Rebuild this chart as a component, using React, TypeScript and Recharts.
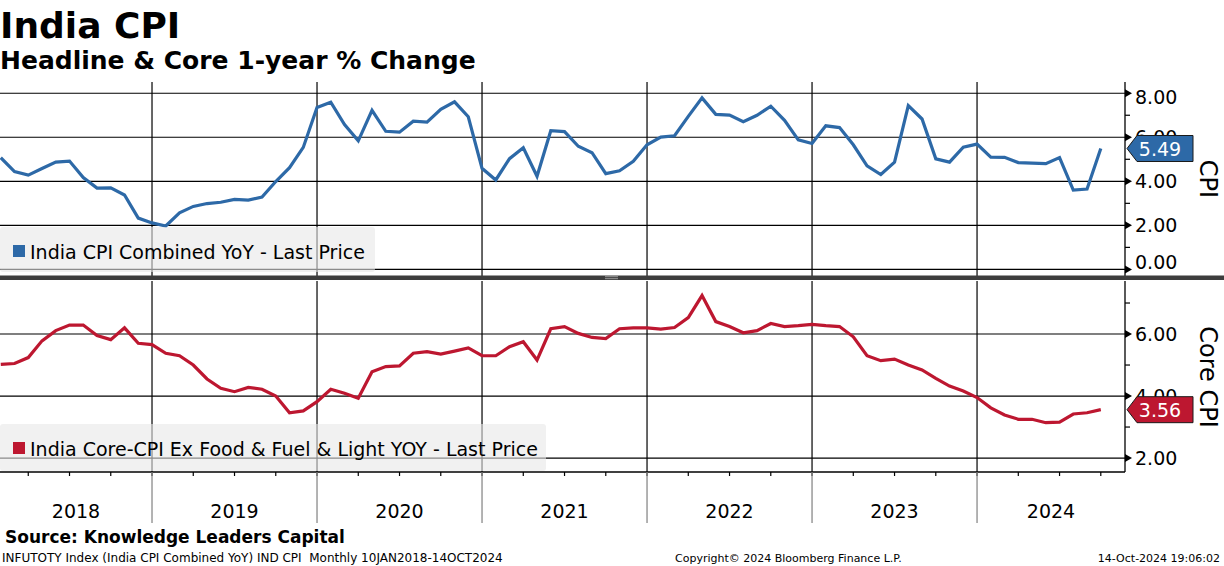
import React from 'react';
import {
  LineChart,
  Line,
  XAxis,
  YAxis,
  CartesianGrid,
  ReferenceDot,
} from 'recharts';

// monthly readings, Jan 2018 .. Sep 2024
const cpiYoY = [
  5.07, 4.44, 4.28, 4.58, 4.87, 4.92, 4.17, 3.69, 3.70, 3.38, 2.33, 2.11,
  1.97, 2.57, 2.86, 2.99, 3.05, 3.18, 3.15, 3.28, 3.99, 4.62, 5.54, 7.35,
  7.59, 6.58, 5.84, 7.22, 6.27, 6.23, 6.73, 6.69, 7.27, 7.61, 6.93, 4.59,
  4.06, 5.03, 5.52, 4.23, 6.30, 6.26, 5.59, 5.30, 4.35, 4.48, 4.91, 5.66,
  6.01, 6.07, 6.95, 7.79, 7.04, 7.01, 6.71, 7.00, 7.41, 6.77, 5.88, 5.72,
  6.52, 6.44, 5.66, 4.70, 4.31, 4.87, 7.44, 6.83, 5.02, 4.87, 5.55, 5.69,
  5.10, 5.09, 4.85, 4.83, 4.80, 5.08, 3.60, 3.65, 5.49,
];

const coreYoY = [
  5.02, 5.05, 5.24, 5.78, 6.11, 6.29, 6.29, 5.95, 5.82, 6.20, 5.70, 5.66,
  5.38, 5.30, 5.00, 4.55, 4.25, 4.14, 4.28, 4.22, 4.00, 3.46, 3.52, 3.82,
  4.22, 4.09, 3.93, 4.78, 4.95, 4.97, 5.38, 5.43, 5.35, 5.45, 5.55, 5.30,
  5.30, 5.59, 5.75, 5.16, 6.17, 6.24, 6.02, 5.89, 5.85, 6.17, 6.20, 6.20,
  6.16, 6.21, 6.53, 7.24, 6.40, 6.24, 6.04, 6.11, 6.34, 6.24, 6.27, 6.31,
  6.27, 6.24, 5.91, 5.30, 5.14, 5.19, 5.00, 4.84, 4.57, 4.32, 4.16, 3.95,
  3.62, 3.39, 3.25, 3.25, 3.14, 3.16, 3.42, 3.46, 3.56,
];

const years = ['2018', '2019', '2020', '2021', '2022', '2023', '2024'];
const monthNames = ['Jan', 'Feb', 'Mar', 'Apr', 'May', 'Jun', 'Jul', 'Aug', 'Sep', 'Oct', 'Nov', 'Dec'];
const cpiTicks = [0, 1, 2, 3, 4, 5, 6, 7, 8];
const cpiMajor = [0, 2, 4, 6, 8];
const coreTicks = [2, 3, 4, 5, 6, 7];
const coreMajor = [2, 4, 6];

const BLUE = '#2d69a7';
const RED = '#bd1730';
const FONT = '"DejaVu Sans", sans-serif';

// x runs in months, 0 = end of Jan 2018
const X_MIN = -0.055;
const X_MAX = 81.76;
const AXIS_X = 1125;
const CPI_DOMAIN: [number, number] = [-0.3, 8.51];
const CORE_DOMAIN: [number, number] = [1.55, 7.71];
const TOP_MARGIN = { top: 82, right: 0, bottom: 4, left: 0 };
const BOTTOM_MARGIN = { top: 281, right: 0, bottom: 43, left: 0 };

const data = cpiYoY.map((v, i) => ({
  i,
  month: `${monthNames[i % 12]} ${years[Math.floor(i / 12)]}`,
  cpi: v,
  core: coreYoY[i],
}));

const yearStarts = years.map((_, k) => 12 * k - 1).filter((v) => v > X_MIN);
const yearMids = years.map((label, k) => {
  const lo = Math.max(12 * k - 1, X_MIN);
  const hi = Math.min(12 * k + 11, X_MAX);
  return { pos: (lo + hi) / 2, label };
});
const quarterEnds: number[] = [];
for (let q = 2; q <= X_MAX; q += 3) quarterEnds.push(q);
const xTicks = Array.from(
  new Set([...quarterEnds, ...yearStarts, ...yearMids.map((m) => m.pos)])
).sort((a, b) => a - b);

const XTick = (props: any) => {
  const { x, y, payload } = props;
  const v = payload.value;
  const mid = yearMids.find((m) => m.pos === v);
  return (
    <g>
      {quarterEnds.includes(v) && (
        <line x1={x} x2={x} y1={y} y2={y + 4} stroke="#000" strokeWidth={1.2} />
      )}
      {yearStarts.includes(v) && (
        <line x1={x} x2={x} y1={y} y2={y + 51} stroke="#8a8a8a" strokeWidth={1.3} />
      )}
      {mid && (
        <text x={x} y={y + 46} textAnchor="middle" fontSize={19} fontFamily={FONT} fill="#000">
          {mid.label}
        </text>
      )}
    </g>
  );
};

const makeYTick = (majors: number[], top: number, bottom: number) => (props: any) => {
  const { x, y, payload } = props;
  const v = payload.value;
  if (!majors.includes(v)) {
    return <line x1={x} x2={x + 5} y1={y} y2={y} stroke="#000" strokeWidth={1.2} />;
  }
  const base = Math.min(Math.max(y + 7, top + 22), bottom - 7);
  return (
    <g>
      <polygon points={`${x},${y - 4} ${x + 7},${y} ${x},${y + 4}`} fill="#000" />
      <text x={x + 10} y={base} fontSize={19} fontFamily={FONT} fill="#000">
        {v.toFixed(2)}
      </text>
    </g>
  );
};

const makeTag = (color: string, text: string) => (props: any) => {
  const cy = props.cy;
  const x0 = AXIS_X + 2;
  return (
    <g>
      <polygon
        points={`${x0},${cy} ${x0 + 10},${cy - 13} ${x0 + 66},${cy - 13} ${x0 + 66},${cy + 13} ${x0 + 10},${cy + 13}`}
        fill={color}
        stroke="#1a1a1a"
        strokeWidth={1}
      />
      <text x={x0 + 33} y={cy + 7} textAnchor="middle" fontSize={19} fontFamily={FONT} fill="#fff">
        {text}
      </text>
    </g>
  );
};

const last = data.length - 1;

// a chart layer holding only the last-value tag, so it sits above the tick labels
const TagLayer: React.FC<{
  height: number;
  margin: { top: number; right: number; bottom: number; left: number };
  domain: [number, number];
  value: number;
  color: string;
  xAxisHeight: number;
}> = ({ height, margin, domain, value, color, xAxisHeight }) => (
  <div style={{ position: 'absolute', left: 0, top: 0, pointerEvents: 'none' }}>
    <LineChart
      width={1224}
      height={height}
      data={data}
      margin={{ ...margin, right: margin.right + 99, bottom: margin.bottom + xAxisHeight }}
    >
      <XAxis type="number" dataKey="i" domain={[X_MIN, X_MAX]} allowDataOverflow hide />
      <YAxis type="number" domain={domain} allowDataOverflow hide />
      <ReferenceDot
        x={last}
        y={value}
        r={0}
        ifOverflow="visible"
        shape={makeTag(color, value.toFixed(2))}
      />
    </LineChart>
  </div>
);

const App: React.FC = () => (
  <div style={{ position: 'absolute', left: 0, top: 0, width: 1224, height: 566, background: '#fff' }}>
    <div style={{ position: 'absolute', left: 0, top: 0 }}>
      <LineChart width={1224} height={280} data={data} margin={TOP_MARGIN}>
        <CartesianGrid
          stroke="#000"
          strokeWidth={1.2}
          horizontalValues={cpiMajor}
          verticalValues={yearStarts}
        />
        <XAxis type="number" dataKey="i" domain={[X_MIN, X_MAX]} allowDataOverflow hide />
        <YAxis
          orientation="right"
          type="number"
          domain={CPI_DOMAIN}
          allowDataOverflow
          ticks={cpiTicks}
          interval={0}
          width={99}
          tickSize={0}
          tickMargin={0}
          tickLine={false}
          axisLine={{ stroke: '#000', strokeWidth: 1.3 }}
          tick={makeYTick(cpiMajor, 82, 276)}
        />
        <Line
          dataKey="cpi"
          stroke={BLUE}
          strokeWidth={3.2}
          dot={false}
          isAnimationActive={false}
        />
      </LineChart>
    </div>
    <div style={{ position: 'absolute', left: 0, top: 0 }}>
      <LineChart width={1224} height={566} data={data} margin={BOTTOM_MARGIN}>
        <CartesianGrid
          stroke="#000"
          strokeWidth={1.2}
          horizontalValues={coreMajor}
          verticalValues={yearStarts}
        />
        <XAxis
          type="number"
          dataKey="i"
          domain={[X_MIN, X_MAX]}
          allowDataOverflow
          ticks={xTicks}
          interval={0}
          height={51}
          tickSize={0}
          tickMargin={0}
          tickLine={false}
          axisLine={{ stroke: '#000', strokeWidth: 1.3 }}
          tick={<XTick />}
        />
        <YAxis
          orientation="right"
          type="number"
          domain={CORE_DOMAIN}
          allowDataOverflow
          ticks={coreTicks}
          interval={0}
          width={99}
          tickSize={0}
          tickMargin={0}
          tickLine={false}
          axisLine={{ stroke: '#000', strokeWidth: 1.3 }}
          tick={makeYTick(coreMajor, 281, 472)}
        />
        <Line
          dataKey="core"
          stroke={RED}
          strokeWidth={3.2}
          dot={false}
          isAnimationActive={false}
        />
      </LineChart>
    </div>
    <TagLayer height={280} margin={TOP_MARGIN} domain={CPI_DOMAIN} value={cpiYoY[last]} color={BLUE} xAxisHeight={0} />
    <TagLayer height={566} margin={BOTTOM_MARGIN} domain={CORE_DOMAIN} value={coreYoY[last]} color={RED} xAxisHeight={51} />
    <svg
      width={1224}
      height={566}
      style={{ position: 'absolute', left: 0, top: 0, pointerEvents: 'none' }}
      fontFamily={FONT}
    >
      <text x={0} y={37.5} fontSize={36} fontWeight="bold" fill="#000">India CPI</text>
      <text x={0} y={68.5} fontSize={25} fontWeight="bold" fill="#000">Headline &amp; Core 1-year % Change</text>

      {/* panel legends */}
      <rect x={0} y={227} width={375} height={45} rx={3} fill="rgba(232,232,232,0.6)" />
      <rect x={13} y={245} width={12} height={12} fill={BLUE} />
      <text x={30} y={258.5} fontSize={19} fill="#000">India CPI Combined YoY - Last Price</text>

      <rect x={0} y={424} width={546} height={47} rx={3} fill="rgba(232,232,232,0.6)" />
      <rect x={13} y={442} width={12} height={12} fill={RED} />
      <text x={30} y={455.5} fontSize={19} fill="#000">India Core-CPI Ex Food &amp; Fuel &amp; Light YOY - Last Price</text>

      {/* panel divider */}
      <rect x={0} y={275.5} width={1224} height={4.5} fill="#3d3d3d" />
      <line x1={605} x2={618} y1={276.7} y2={276.7} stroke="#b0b0b0" strokeWidth={0.8} />
      <line x1={605} x2={618} y1={278.7} y2={278.7} stroke="#b0b0b0" strokeWidth={0.8} />

      <text x={1208} y={179} fontSize={24} textAnchor="middle" dominantBaseline="central" transform="rotate(90 1208 179)" fill="#000">CPI</text>
      <text x={1208} y={377} fontSize={24} textAnchor="middle" dominantBaseline="central" transform="rotate(90 1208 377)" fill="#000">Core CPI</text>

      <text x={5} y={543} fontSize={17} fontWeight="bold" fill="#000">Source: Knowledge Leaders Capital</text>
      <text x={2} y={561.5} fontSize={12} fill="#000" style={{ whiteSpace: 'pre' }}>INFUTOTY Index (India CPI Combined YoY) IND CPI  Monthly 10JAN2018-14OCT2024</text>
      <text x={675} y={561.5} fontSize={11} fill="#000">Copyright© 2024 Bloomberg Finance L.P.</text>
      <text x={1220} y={561.5} fontSize={11} textAnchor="end" fill="#000">14-Oct-2024 19:06:02</text>
    </svg>
  </div>
);

export default App;
